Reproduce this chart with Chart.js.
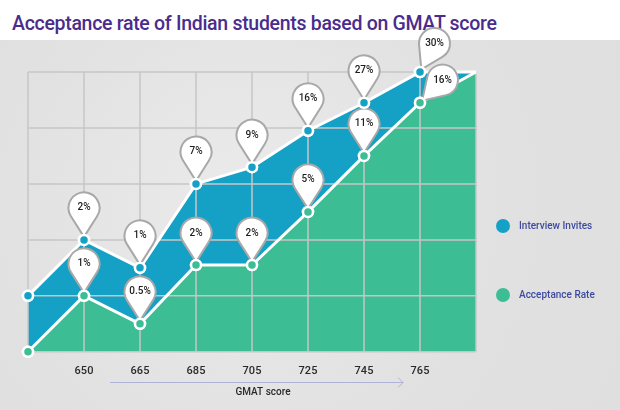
<!DOCTYPE html>
<html>
<head>
<meta charset="utf-8">
<script src="https://cdn.jsdelivr.net/npm/chart.js@4.4.0/dist/chart.umd.min.js"></script>
<style>
  body { margin: 0; width: 620px; height: 410px; overflow: hidden; background: #fff; font-family: Roboto, sans-serif; position: relative; }
  .bg { position: absolute; left: 0; top: 40px; width: 620px; height: 370px;
        background: radial-gradient(circle at 40% 45%, #ebebeb 0%, #e1e1e1 60%, #dfdfdf 100%); }
  .title { position: absolute; left: 12px; top: 12px; margin: 0; font-size: 19.5px; letter-spacing: -0.3px; line-height: 24px; font-weight: 500; color: #4a2c8c; white-space: nowrap; }
  .chart { position: absolute; left: 0; top: 0; width: 620px; height: 410px; z-index: 1; }
  .legend { position: absolute; left: 496px; z-index: 2; font-size: 10px; font-weight: 500; color: #3d4aa0; line-height: 14px; }
  .legend span { display: inline-block; width: 14px; height: 14px; border-radius: 50%; vertical-align: top; margin-right: 9px; }
</style>
</head>
<body>
<div class="bg"></div>
<h1 class="title">Acceptance rate of Indian students based on GMAT score</h1>
<div class="chart"><canvas id="gmat"></canvas></div>
<div class="legend" style="top:219px"><span style="background:#15a1c6"></span>Interview Invites</div>
<div class="legend" style="top:288px"><span style="background:#3dbd93"></span>Acceptance Rate</div>
<script>
// x positions (first and last are the unlabeled edges of the area)
const categories = ['', '650', '665', '685', '705', '725', '745', '765', ''];
// heights of the two lines (0 = bottom line, 100 = top line)
const inviteLevels = [20, 40, 30, 60, 66, 79, 89, 100, 100];
const acceptLevels = [0, 20, 10, 31, 31, 50, 70, 89, 100];
// numbers printed in the pins
const inviteLabels = ['', '2%', '1%', '7%', '9%', '16%', '27%', '30%', ''];
const acceptLabels = ['', '1%', '0.5%', '2%', '2%', '5%', '11%', '16%', ''];
const gridSteps = [0, 20, 40, 60, 80, 100];

const BLUE = '#15a1c6';
const GREEN = '#3dbd93';
const last = categories.length - 1;

// grid lines go over the fills but under the white lines
const gridOverFill = {
  id: 'gridOverFill',
  beforeDatasetsDraw(chart) {
    const { ctx, chartArea: a, scales: { x, y } } = chart;
    ctx.save();
    ctx.strokeStyle = '#c6c6c6';
    ctx.lineWidth = 1.5;
    ctx.beginPath();
    categories.forEach((c, i) => {
      const px = x.getPixelForValue(i);
      ctx.moveTo(px, a.top);
      ctx.lineTo(px, a.bottom);
    });
    gridSteps.forEach(v => {
      const py = y.getPixelForValue(v);
      ctx.moveTo(a.left, py);
      ctx.lineTo(a.right, py);
    });
    ctx.stroke();
    ctx.restore();
  }
};

function drawPin(ctx, x, y, text, tilt) {
  const r = 15.5, tipOff = 3, D = 29;
  const th = Math.acos(r / D);
  ctx.save();
  ctx.translate(x, y);
  ctx.rotate(tilt);
  ctx.beginPath();
  ctx.moveTo(0, -tipOff);
  ctx.arc(0, -tipOff - D, r, Math.PI / 2 + th, Math.PI / 2 - th + 2 * Math.PI);
  ctx.closePath();
  ctx.fillStyle = '#fff';
  ctx.fill();
  ctx.lineWidth = 2;
  ctx.strokeStyle = '#a8a8a8';
  ctx.stroke();
  ctx.restore();

  const cx = x + Math.sin(tilt) * (tipOff + D);
  const cy = y - Math.cos(tilt) * (tipOff + D);
  ctx.save();
  ctx.fillStyle = '#1e1e1e';
  ctx.font = '500 10px Roboto';
  ctx.textAlign = 'center';
  ctx.textBaseline = 'middle';
  ctx.fillText(text, cx, cy);
  ctx.restore();
}

const pins = {
  id: 'pins',
  afterDatasetsDraw(chart) {
    const ctx = chart.ctx;
    const sets = [
      { meta: chart.getDatasetMeta(0), labels: inviteLabels, tilt: { 7: 0.47 } },
      { meta: chart.getDatasetMeta(1), labels: acceptLabels, tilt: { 7: 0.78 } }
    ];
    sets.forEach(s => {
      s.meta.data.forEach((pt, i) => {
        if (!s.labels[i]) return;
        drawPin(ctx, pt.x, pt.y, s.labels[i], s.tilt[i] || 0);
      });
    });
    // points sit on top of the pin tips
    [1, 0].forEach(di => chart.getDatasetMeta(di).data.forEach(pt => pt.draw(ctx)));
  }
};

// axis title with arrow
const axisTitle = {
  id: 'axisTitle',
  afterDraw(chart) {
    const ctx = chart.ctx;
    ctx.save();
    ctx.strokeStyle = '#aeb4d8';
    ctx.lineWidth = 1;
    ctx.beginPath();
    ctx.moveTo(110, 382.5);
    ctx.lineTo(403, 382.5);
    ctx.moveTo(398, 377.5);
    ctx.lineTo(403, 382.5);
    ctx.lineTo(398, 387.5);
    ctx.stroke();
    ctx.fillStyle = '#2a2a2a';
    ctx.font = '500 10px Roboto';
    ctx.textAlign = 'center';
    ctx.textBaseline = 'middle';
    ctx.fillText('GMAT score', 263, 392);
    ctx.restore();
  }
};

new Chart(document.getElementById('gmat'), {
  type: 'line',
  data: {
    labels: categories,
    datasets: [
      {
        label: 'Interview Invites',
        data: inviteLevels,
        fill: '+1',
        backgroundColor: BLUE,
        borderColor: '#fff',
        borderWidth: 3,
        pointRadius: inviteLevels.map((v, i) => i === last ? 0 : 5),
        pointBackgroundColor: BLUE,
        pointBorderColor: '#fff',
        pointBorderWidth: 2.5,
        clip: false
      },
      {
        label: 'Acceptance Rate',
        data: acceptLevels,
        fill: 'origin',
        backgroundColor: GREEN,
        borderColor: '#fff',
        borderWidth: 3,
        pointRadius: acceptLevels.map((v, i) => i === last ? 0 : 5),
        pointBackgroundColor: GREEN,
        pointBorderColor: '#fff',
        pointBorderWidth: 2.5,
        clip: false
      }
    ]
  },
  options: {
    responsive: true,
    maintainAspectRatio: false,
    animation: false,
    layout: { padding: { left: 28, right: 144, top: 72, bottom: 27 } },
    plugins: {
      legend: { display: false },
      tooltip: { enabled: false },
      filler: { drawTime: 'beforeDatasetsDraw' }
    },
    scales: {
      x: {
        grid: { display: false },
        border: { display: false },
        ticks: {
          color: '#2a2a2a',
          font: { family: 'Roboto', size: 11, weight: '500' },
          padding: 5,
          maxRotation: 0,
          autoSkip: false
        }
      },
      y: { display: false, min: 0, max: 100 }
    }
  },
  plugins: [gridOverFill, pins, axisTitle]
});
</script>
</body>
</html>
